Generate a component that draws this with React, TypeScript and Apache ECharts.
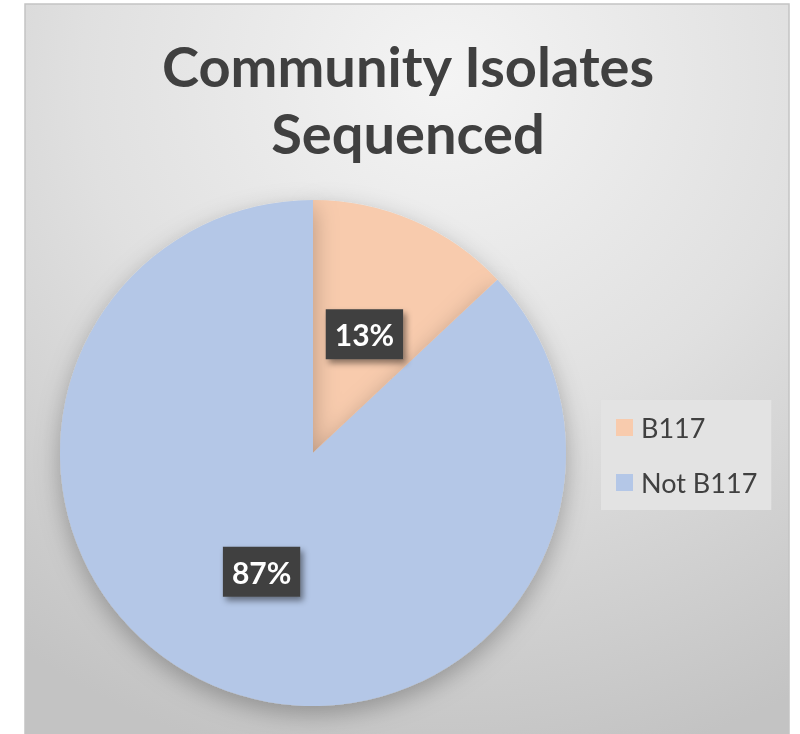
import React, { useEffect, useRef } from "react";
import * as echarts from "echarts";

const titleText = "Community Isolates\nSequenced";
const categories = ["B117", "Not B117"];
const values = [13, 87];
const colors = ["#f8cbad", "#b4c7e7"];

export default function App() {
  const ref = useRef<HTMLDivElement>(null);
  useEffect(() => {
    document.body.style.margin = "0";
    const chart = echarts.init(ref.current!, null, { renderer: "svg" });
    chart.setOption({
      animation: false,
      graphic: [
        {
          type: "rect",
          z: -10,
          silent: true,
          shape: { x: 25, y: 4, width: 764, height: 740 },
          style: {
            fill: new echarts.graphic.RadialGradient(0.55, 0.1, 0.95, [
              { offset: 0, color: "#f4f4f4" },
              { offset: 0.5, color: "#e0e0e0" },
              { offset: 1, color: "#c3c3c3" },
            ]),
            stroke: "#c4c4c4",
            lineWidth: 1.5,
          },
        },
      ],
      title: {
        text: titleText,
        left: 403,
        top: 27,
        textAlign: "center",
        textStyle: {
          fontFamily: "Lato",
          fontWeight: "bold",
          fontSize: 56,
          lineHeight: 67,
          color: "#404040",
        },
      },
      legend: {
        orient: "vertical",
        left: 601,
        top: 400,
        padding: [14, 14, 14, 15],
        itemGap: 28,
        itemWidth: 17,
        itemHeight: 17,
        icon: "rect",
        backgroundColor: "#e3e3e3",
        data: categories,
        textStyle: {
          fontFamily: "Lato",
          fontSize: 27,
          color: "#404040",
          padding: [0, 0, 0, 3],
        },
      },
      series: [
        {
          type: "pie",
          center: [313, 453],
          radius: [0, 253],
          startAngle: 90,
          clockwise: true,
          data: categories.map((c, i) => ({
            name: c,
            value: values[i],
            itemStyle: { color: colors[i] },
          })),
          itemStyle: {
            shadowBlur: 24,
            shadowColor: "rgba(0,0,0,0.28)",
            shadowOffsetY: 8,
          },
          label: {
            position: "inside",
            formatter: "{d}%",
            fontFamily: "Lato",
            fontWeight: "bold",
            fontSize: 30,
            lineHeight: 34,
            color: "#ffffff",
            backgroundColor: "#404040",
            padding: [8, 9],
            shadowBlur: 6,
            shadowColor: "rgba(0,0,0,0.45)",
            shadowOffsetX: 3,
            shadowOffsetY: 4,
          },
          labelLine: { show: false },
          emphasis: { disabled: true },
        },
      ],
    });
    return () => chart.dispose();
  }, []);
  return <div ref={ref} style={{ width: 800, height: 734, position: "fixed", left: 0, top: 0 }} />;
}
